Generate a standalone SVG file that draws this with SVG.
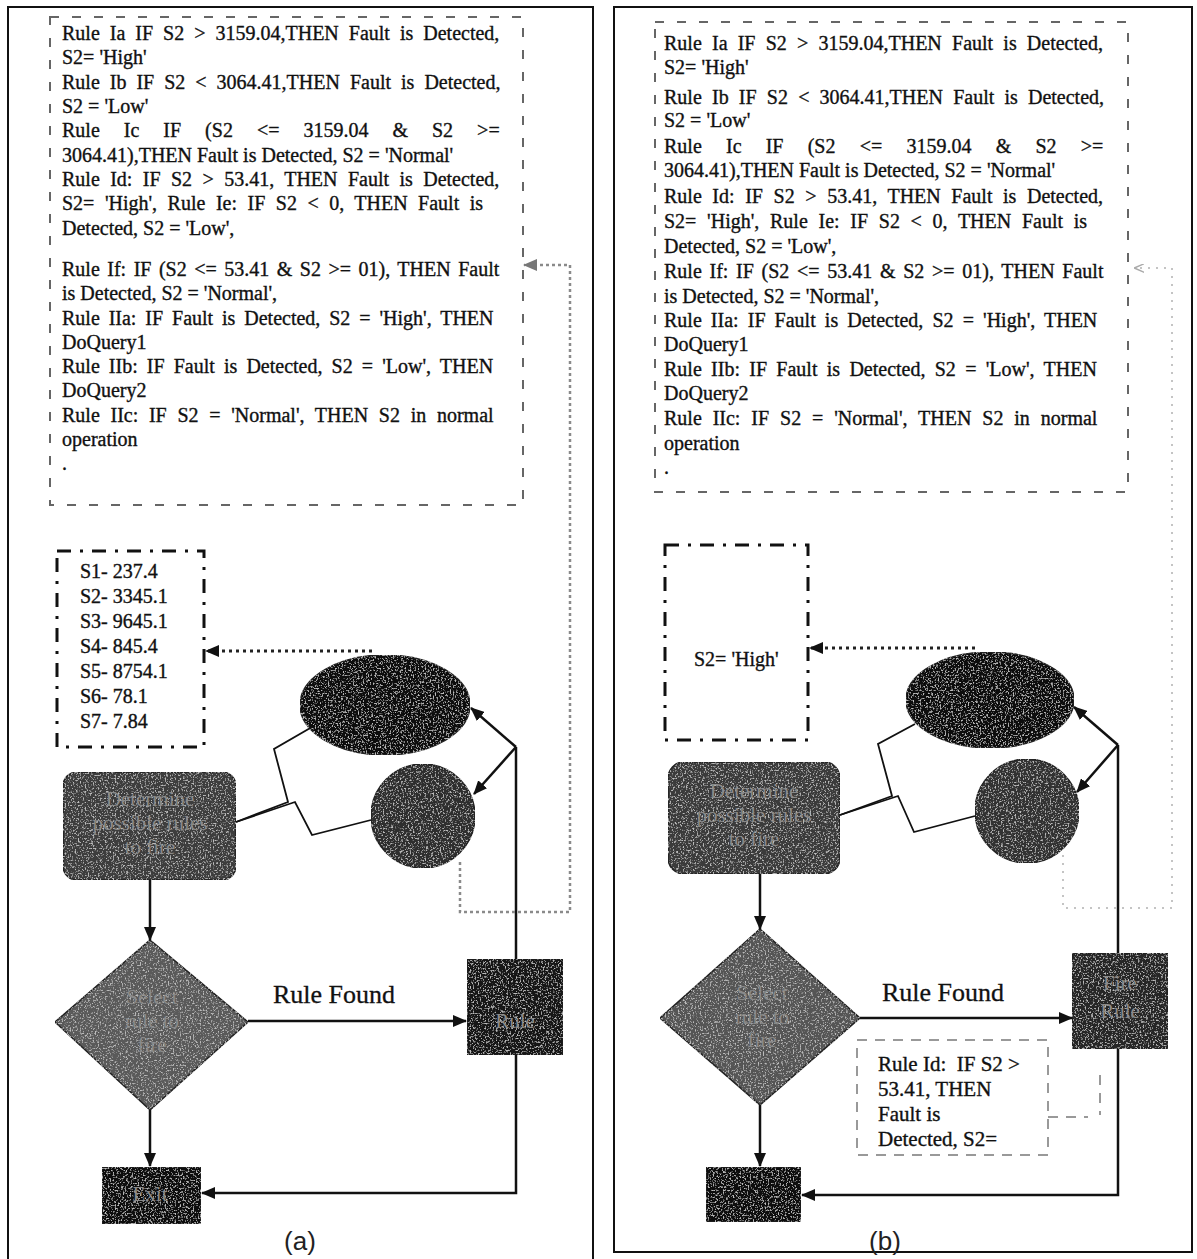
<svg xmlns="http://www.w3.org/2000/svg" width="1197" height="1259" viewBox="0 0 1197 1259">
<style>
.frame{fill:none;stroke:#111;stroke-width:2}
.rulebox{fill:none;stroke:#666;stroke-width:2;stroke-dasharray:9 13}
.dd{fill:none;stroke:#111;stroke-width:3;stroke-dasharray:14 9 3 9}
.rt{font-family:"Liberation Serif","Times New Roman",serif;font-size:20px;fill:#111;stroke:#111;stroke-width:0.35}
.lbl{font-family:"Liberation Serif","Times New Roman",serif;font-size:26px;fill:#111;stroke:#111;stroke-width:0.3}
.cap{font-family:"Liberation Sans",Arial,sans-serif;font-size:26px;fill:#222}
.inner{font-family:"Liberation Serif","Times New Roman",serif;font-size:21px;fill:#8a8a8a;text-anchor:middle}
.shape{stroke:#222;stroke-width:1.5}
.conn{fill:none;stroke:#111;stroke-width:2.5}
.dot{fill:none;stroke:#222;stroke-width:3;stroke-dasharray:3 4}
.gdot{fill:none;stroke:#8a8a8a;stroke-width:2.5;stroke-dasharray:3 3}
.fdot{fill:none;stroke:#c4c4c4;stroke-width:2;stroke-dasharray:2 6}
.gdash{fill:none;stroke:#999;stroke-width:2;stroke-dasharray:10 8}
</style>
<defs>
<filter id="grain" x="0" y="0" width="100%" height="100%">
<feTurbulence type="fractalNoise" baseFrequency="0.6" numOctaves="2" seed="4" result="n"/>
<feColorMatrix in="n" type="matrix" values="0 0 0 0 0.5 0 0 0 0 0.5 0 0 0 0 0.5 5 0 0 0 -2.7" result="g"/>
<feComposite in="g" in2="SourceGraphic" operator="in" result="gi"/>
<feMerge><feMergeNode in="SourceGraphic"/><feMergeNode in="gi"/></feMerge>
</filter>
<marker id="ah" viewBox="0 0 14 12" refX="13" refY="6" markerWidth="14" markerHeight="12" markerUnits="userSpaceOnUse" orient="auto"><path d="M0,0 L14,6 L0,12 Z" fill="#111"/></marker>
<marker id="ahg" viewBox="0 0 14 12" refX="13" refY="6" markerWidth="14" markerHeight="12" markerUnits="userSpaceOnUse" orient="auto"><path d="M0,0 L14,6 L0,12 Z" fill="#777"/></marker>
<marker id="ahf" viewBox="0 0 14 12" refX="13" refY="6" markerWidth="10" markerHeight="9" markerUnits="userSpaceOnUse" orient="auto"><path d="M0,0 L14,6 L0,12" fill="none" stroke="#aaa" stroke-width="2"/></marker>
</defs>

<g id="frames">
<path class="frame" d="M8,1259 V7 H593 V1259"/>
<rect class="frame" x="614" y="7" width="578" height="1245"/>
</g>

<!-- Panel (a) -->
<g id="a-rules">
<rect class="rulebox" x="50" y="17" width="473" height="488"/>
<text class="rt" x="62" y="40" word-spacing="5">Rule Ia IF S2 &gt; 3159.04,THEN Fault is Detected,</text>
<text class="rt" x="62" y="64">S2= 'High'</text>
<text class="rt" x="62" y="89" word-spacing="5">Rule Ib IF S2 &lt; 3064.41,THEN Fault is Detected,</text>
<text class="rt" x="62" y="113">S2 = 'Low'</text>
<text class="rt" x="62" y="137" word-spacing="19">Rule Ic IF (S2 &lt;= 3159.04 &amp; S2 &gt;=</text>
<text class="rt" x="62" y="162">3064.41),THEN Fault is Detected, S2 = 'Normal'</text>
<text class="rt" x="62" y="186" word-spacing="5.4">Rule Id: IF S2 &gt; 53.41, THEN Fault is Detected,</text>
<text class="rt" x="62" y="210" word-spacing="5.5">S2= 'High', Rule Ie: IF S2 &lt; 0, THEN Fault is</text>
<text class="rt" x="62" y="235">Detected, S2 = 'Low',</text>
<text class="rt" x="62" y="276" word-spacing="2.5">Rule If: IF (S2 &lt;= 53.41 &amp; S2 &gt;= 01), THEN Fault</text>
<text class="rt" x="62" y="300">is Detected, S2 = 'Normal',</text>
<text class="rt" x="62" y="325" word-spacing="3.9">Rule IIa: IF Fault is Detected, S2 = 'High', THEN</text>
<text class="rt" x="62" y="349">DoQuery1</text>
<text class="rt" x="62" y="373" word-spacing="4.1">Rule IIb: IF Fault is Detected, S2 = 'Low', THEN</text>
<text class="rt" x="62" y="397">DoQuery2</text>
<text class="rt" x="62" y="422" word-spacing="5.7">Rule IIc: IF S2 = 'Normal', THEN S2 in normal</text>
<text class="rt" x="62" y="446">operation</text>
<text class="rt" x="62" y="470">.</text>
</g>

<g id="a-sensors">
<rect class="dd" x="57" y="551" width="147" height="196"/>
<text class="rt" x="80" y="578">S1- 237.4</text>
<text class="rt" x="80" y="603">S2- 3345.1</text>
<text class="rt" x="80" y="628">S3- 9645.1</text>
<text class="rt" x="80" y="653">S4- 845.4</text>
<text class="rt" x="80" y="678">S5- 8754.1</text>
<text class="rt" x="80" y="703">S6- 78.1</text>
<text class="rt" x="80" y="728">S7- 7.84</text>
</g>

<g id="a-memory"><ellipse class="shape" cx="385" cy="705" rx="85" ry="50" fill="#0a0a0a" filter="url(#grain)"/></g>
<g id="a-rulebase"><circle class="shape" cx="423" cy="816" r="52" fill="#2e2e2e" filter="url(#grain)"/></g>
<g id="a-determine">
<rect class="shape" x="63" y="772" width="173" height="108" rx="14" fill="#3e3e3e" filter="url(#grain)"/>
<text class="inner" x="150" y="806">Determine</text>
<text class="inner" x="150" y="830">possible rules</text>
<text class="inner" x="150" y="854">to fire</text>
</g>
<g id="a-select">
<polygon class="shape" points="150,940 248,1022 150,1110 55,1022" fill="#5a5a5a" filter="url(#grain)"/>
<text class="inner" x="152" y="1004">Select</text>
<text class="inner" x="152" y="1028">rule to</text>
<text class="inner" x="152" y="1052">fire</text>
</g>
<g id="a-fire">
<rect class="shape" x="467" y="959" width="96" height="96" fill="#161616" filter="url(#grain)"/>
<text class="inner" x="515" y="1028">Rule</text>
</g>
<g id="a-exit">
<rect class="shape" x="102" y="1167" width="99" height="57" fill="#111" filter="url(#grain)"/>
<text class="inner" x="150" y="1201">Exit</text>
</g>
<text class="lbl" x="273" y="1003">Rule Found</text>
<text class="cap" x="300" y="1250" text-anchor="middle">(a)</text>

<g id="a-connectors">
<path class="conn" d="M150,880 V940" marker-end="url(#ah)"/>
<path class="conn" d="M248,1021 H466" marker-end="url(#ah)"/>
<path class="conn" d="M150,1110 V1166" marker-end="url(#ah)"/>
<path class="conn" d="M516,1055 V1193 H202" marker-end="url(#ah)"/>
<path class="conn" d="M516,959 V747"/>
<path class="conn" d="M516,747 L471,708" marker-end="url(#ah)"/>
<path class="conn" d="M516,747 L474,794" marker-end="url(#ah)"/>
<path class="conn" style="stroke-width:1.8" d="M236,822 L288,802 L274,749 L312,727"/>
<path class="conn" style="stroke-width:1.8" d="M236,822 L295,802 L312,835 L371,820"/>
<path class="dot" d="M372,651 H206" marker-end="url(#ah)"/>
<path class="gdot" d="M460,862 V912 H570 V265 H524" marker-end="url(#ahg)"/>
</g>

<!-- Panel (b) -->
<g id="b-rules">
<rect class="rulebox" x="655" y="22" width="473" height="470"/>
<text class="rt" x="664" y="50" word-spacing="5.2">Rule Ia IF S2 &gt; 3159.04,THEN Fault is Detected,</text>
<text class="rt" x="664" y="74">S2= 'High'</text>
<text class="rt" x="664" y="104" word-spacing="5.2">Rule Ib IF S2 &lt; 3064.41,THEN Fault is Detected,</text>
<text class="rt" x="664" y="127">S2 = 'Low'</text>
<text class="rt" x="664" y="153" word-spacing="19.2">Rule Ic IF (S2 &lt;= 3159.04 &amp; S2 &gt;=</text>
<text class="rt" x="664" y="177">3064.41),THEN Fault is Detected, S2 = 'Normal'</text>
<text class="rt" x="664" y="203" word-spacing="5.6">Rule Id: IF S2 &gt; 53.41, THEN Fault is Detected,</text>
<text class="rt" x="664" y="228" word-spacing="5.7">S2= 'High', Rule Ie: IF S2 &lt; 0, THEN Fault is</text>
<text class="rt" x="664" y="253">Detected, S2 = 'Low',</text>
<text class="rt" x="664" y="278" word-spacing="2.7">Rule If: IF (S2 &lt;= 53.41 &amp; S2 &gt;= 01), THEN Fault</text>
<text class="rt" x="664" y="303">is Detected, S2 = 'Normal',</text>
<text class="rt" x="664" y="327" word-spacing="4.1">Rule IIa: IF Fault is Detected, S2 = 'High', THEN</text>
<text class="rt" x="664" y="351">DoQuery1</text>
<text class="rt" x="664" y="376" word-spacing="4.3">Rule IIb: IF Fault is Detected, S2 = 'Low', THEN</text>
<text class="rt" x="664" y="400">DoQuery2</text>
<text class="rt" x="664" y="425" word-spacing="5.9">Rule IIc: IF S2 = 'Normal', THEN S2 in normal</text>
<text class="rt" x="664" y="450">operation</text>
<text class="rt" x="664" y="474">.</text>
</g>

<g id="b-result">
<rect class="dd" x="665" y="545" width="143" height="195"/>
<text class="rt" x="694" y="666">S2= 'High'</text>
</g>

<g id="b-memory"><ellipse class="shape" cx="990" cy="700" rx="84" ry="48" fill="#0a0a0a" filter="url(#grain)"/></g>
<g id="b-rulebase"><circle class="shape" cx="1027" cy="811" r="52" fill="#333" filter="url(#grain)"/></g>
<g id="b-determine">
<rect class="shape" x="668" y="762" width="172" height="112" rx="16" fill="#3a3a3a" filter="url(#grain)"/>
<text class="inner" x="754" y="798">Determine</text>
<text class="inner" x="754" y="822">possible rules</text>
<text class="inner" x="754" y="846">to fire</text>
</g>
<g id="b-select">
<polygon class="shape" points="760,929 860,1018 760,1105 660,1018" fill="#555" filter="url(#grain)"/>
<text class="inner" x="762" y="1000">Select</text>
<text class="inner" x="762" y="1024">rule to</text>
<text class="inner" x="762" y="1047">fire</text>
</g>
<g id="b-fire">
<rect class="shape" x="1072" y="953" width="96" height="96" fill="#262626" filter="url(#grain)"/>
<text class="inner" x="1120" y="990">Fire</text>
<text class="inner" x="1120" y="1018">Rule</text>
</g>
<g id="b-exit">
<rect class="shape" x="706" y="1167" width="95" height="55" fill="#111" filter="url(#grain)"/>
</g>
<g id="b-note">
<rect class="gdash" x="857" y="1040" width="191" height="115"/>
<text class="rt" x="878" y="1071" style="font-size:21px" xml:space="preserve">Rule Id:  IF S2 &gt;</text>
<text class="rt" x="878" y="1096" style="font-size:21px">53.41, THEN</text>
<text class="rt" x="878" y="1121" style="font-size:21px">Fault is</text>
<text class="rt" x="878" y="1146" style="font-size:21px">Detected, S2=</text>
</g>
<text class="lbl" x="882" y="1001">Rule Found</text>
<text class="cap" x="885" y="1250" text-anchor="middle">(b)</text>

<g id="b-connectors">
<path class="conn" d="M760,874 V929" marker-end="url(#ah)"/>
<path class="conn" d="M860,1018 H1072" marker-end="url(#ah)"/>
<path class="conn" d="M760,1105 V1166" marker-end="url(#ah)"/>
<path class="conn" d="M1118,1049 V1195 H802" marker-end="url(#ah)"/>
<path class="conn" d="M1118,953 V745"/>
<path class="conn" d="M1118,745 L1074,707" marker-end="url(#ah)"/>
<path class="conn" d="M1118,745 L1077,792" marker-end="url(#ah)"/>
<path class="conn" style="stroke-width:1.8" d="M840,815 L892,796 L878,744 L915,724"/>
<path class="conn" style="stroke-width:1.8" d="M840,815 L898,796 L914,832 L975,816"/>
<path class="dot" d="M975,648 H810" marker-end="url(#ah)"/>
<path class="gdash" d="M1048,1117 H1088 M1100,1075 V1115"/>
<path class="fdot" d="M1063,855 V908 H1172 V268 H1135" marker-end="url(#ahf)"/>
</g>
</svg>
